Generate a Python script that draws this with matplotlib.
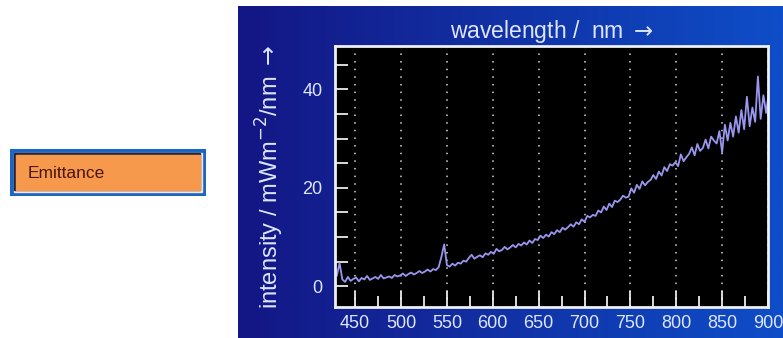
import matplotlib.pyplot as plt
import numpy as np
from matplotlib.patches import Rectangle
from matplotlib.ticker import MultipleLocator

# spectrum, 3 nm steps from 430 nm
wl = np.arange(430, 902, 3)
intensity = [
    2.2, 4.7, 1.4, 0.9, 1.9, 1.1, 1.5, 1.8, 1.0, 1.7,
    1.4, 2.1, 1.3, 1.6, 1.9, 1.5, 2.3, 1.6, 1.8, 2.0,
    1.7, 2.3, 2.0, 2.2, 2.6, 2.1, 2.5, 2.8, 2.4, 2.7,
    3.1, 2.7, 3.0, 3.4, 3.0, 3.5, 3.3, 3.9, 6.0, 8.5,
    4.3, 4.0, 4.6, 4.2, 4.8, 4.6, 5.2, 5.0, 5.8, 6.4,
    5.6, 6.0, 6.3, 5.9, 6.7, 6.4, 7.0, 6.6, 7.6, 7.1,
    7.4, 8.0, 7.5, 7.9, 8.4, 7.9, 8.6, 8.3, 8.9, 8.5,
    9.3, 8.8, 9.6, 9.4, 10.3, 9.8, 10.5, 10.1, 11.0, 10.6,
    11.4, 11.0, 11.9, 11.5, 12.0, 12.6, 12.1, 13.0, 12.6, 13.6,
    13.1, 14.3, 14.0, 14.5, 14.3, 15.4, 15.0, 16.2, 15.5, 16.8,
    16.1, 17.4, 17.1, 17.6, 18.4, 18.0, 18.2, 19.9, 19.0, 20.6,
    19.8, 21.3, 20.5, 21.2, 21.6, 22.6, 21.8, 23.3, 22.5, 24.2,
    23.4, 24.8, 24.5, 25.2, 24.4, 26.8, 25.4, 26.2, 26.9, 28.2,
    26.6, 28.9, 27.5, 28.1, 29.8, 28.0, 30.4, 29.6, 29.0, 31.5,
    27.2, 32.8, 29.6, 33.2, 30.4, 34.5, 31.2, 35.8, 31.9, 38.5,
    32.5, 36.3, 33.4, 42.6, 34.0, 38.8, 35.2, 39.5,
]

x_major = [450, 500, 550, 600, 650, 700, 750, 800, 850, 900]
y_major = [0, 20, 40]

W, H = 783, 338
fig = plt.figure(figsize=(W / 100, H / 100), dpi=100)
fig.patch.set_facecolor('white')

# blue gradient panel behind the chart
bg = fig.add_axes([238 / W, 0, (W - 238) / W, 332 / H], zorder=0)
grad = np.linspace(0, 1, 256)
left = np.array([20, 22, 132]) / 255
right = np.array([14, 78, 200]) / 255
img = left[None, :] + grad[:, None] * (right - left)[None, :]
bg.imshow(img[None, :, :], aspect='auto', extent=[0, 1, 0, 1])
bg.set_axis_off()

# the "Emittance" button
btn = fig.add_axes([10 / W, 1 - 196 / H, 196 / W, 47 / H], zorder=1)
btn.set_xlim(0, 196)
btn.set_ylim(0, 47)
btn.set_axis_off()
btn.add_patch(Rectangle((0, 0), 196, 47, color='#1a66c4'))
btn.add_patch(Rectangle((4, 4), 188, 39, color='#efe6dc'))
btn.add_patch(Rectangle((4, 6), 186, 37, color='#2a2238'))
btn.add_patch(Rectangle((6, 6), 184, 35, color='#f7994c'))
btn.text(18, 23, 'Emittance', color='#4a160e', fontsize=12.5,
         family='Liberation Sans', va='center', ha='left')

ax = fig.add_axes([335 / W, 1 - 307 / H, (768 - 335) / W, (307 - 46) / H], zorder=2)
ax.set_facecolor('black')
ax.plot(wl, intensity, color='#9a96f0', lw=1.3)

ax.set_xlim(428, 900)
ax.set_ylim(-4.2, 48.8)
ax.set_xticks(x_major)
ax.set_yticks(y_major)
ax.xaxis.set_minor_locator(MultipleLocator(25))
ax.yaxis.set_minor_locator(MultipleLocator(5))
ax.grid(axis='x', which='major', color='#d8d8d8', lw=1.1, ls=(0, (1, 4)))

tc = '#dfe6ff'
ax.tick_params(axis='x', which='major', direction='in', length=11.5, width=1.2,
               color='white', labelcolor=tc, labelsize=13, pad=6)
ax.tick_params(axis='x', which='minor', direction='in', length=8, width=1.2, color='white')
ax.tick_params(axis='y', which='both', direction='in', length=9, width=1.2,
               color='white', labelcolor=tc, labelsize=13, pad=9)
for lab in ax.get_xticklabels() + ax.get_yticklabels():
    lab.set_family('Liberation Sans')
for s in ax.spines.values():
    s.set_color('#eef0f6')
    s.set_linewidth(2)

ax.set_title(r'wavelength /  nm $\rightarrow$', color=tc, fontsize=16.5,
             family='Liberation Sans', pad=6)
ax.set_ylabel(r'intensity / mWm$^{-2}$/nm $\rightarrow$', color=tc, fontsize=17,
              family='Liberation Sans', labelpad=12)

fig.savefig('out.png', dpi=100, facecolor=fig.get_facecolor())
